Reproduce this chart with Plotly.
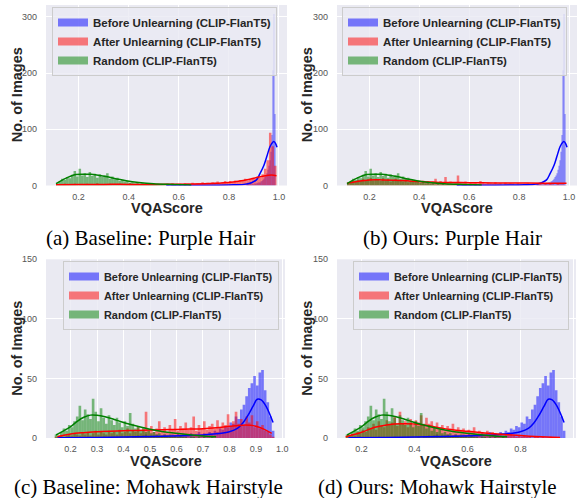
import plotly.graph_objects as go

# ---------------- data ----------------
TICK_X_PH = [0.2, 0.4, 0.6, 0.8, 1.0]
TICK_X_MH_C = [0.2, 0.3, 0.4, 0.5, 0.6, 0.7, 0.8, 0.9, 1.0]
TICK_X_MH_D = [0.2, 0.4, 0.6, 0.8, 1.0]
TICK_Y_PH = [0, 100, 200, 300]
TICK_Y_MH = [0, 50, 100, 150]

LABEL_BEFORE = "Before Unlearning (CLIP-FlanT5)"
LABEL_AFTER = "After Unlearning (CLIP-FlanT5)"
LABEL_RANDOM = "Random (CLIP-FlanT5)"
CAPTIONS = ["(a) Baseline: Purple Hair", "(b) Ours: Purple Hair",
            "(c) Baseline: Mohawk Hairstyle", "(d) Ours: Mohawk Hairstyle"]

# Purple hair histograms
PH_BEFORE_START, PH_BEFORE_W = 0.870, 0.004
PH_BEFORE_COUNTS = [3, 5, 2, 4, 6, 2, 3, 2, 4, 3, 5, 4, 6, 5, 7, 8, 10, 12, 15, 18,
                    22, 28, 35, 45, 60, 90, 205, 305, 127]
PH_START, PH_W = 0.11, 0.01
PH_RANDOM_COUNTS = [4, 7, 12, 10, 15, 13, 19, 26, 16, 30, 18, 22, 15, 24, 17, 21, 14, 20, 15, 18,
                    22, 12, 16, 11, 14, 8, 10, 7, 8, 5, 6, 4, 5, 3, 4, 2, 3, 2, 3, 1,
                    2, 1, 1, 2, 1, 0, 1, 1, 0, 1, 0, 1, 0, 1]
PH_AFTER_BASE_COUNTS = [1, 2, 1, 3, 2, 1, 2, 3, 1, 2, 2, 1, 3, 2, 1, 2, 4, 1, 2, 2,
                        1, 3, 2, 1, 2, 3, 2, 1, 2, 4, 2, 1, 3, 2, 2, 1, 3, 2, 1, 2,
                        3, 2, 2, 1, 3, 2, 4, 2, 3,
                        3, 2, 4, 3, 2, 5, 3, 4, 3, 6, 4, 5, 3, 6, 5, 7, 4, 6, 8, 5,
                        8, 6, 9, 7, 10, 8, 12, 9, 11, 14,
                        12, 16, 14, 20, 30, 45, 94, 70, 35]
PH_AFTER_OURS_COUNTS = [4, 6, 8, 7, 10, 9, 12, 8, 11, 14, 9, 12, 10, 8, 13, 9, 11, 7, 10, 12,
                        8, 9, 7, 11, 6, 9, 8, 10, 7, 6, 9, 5, 8, 6, 7, 12, 5, 8, 6, 15,
                        5, 7, 4, 6, 18, 5, 4, 7, 3, 6, 4, 5, 3, 8, 4, 3, 5, 4, 3, 6,
                        3, 4, 2, 5, 3, 4, 3, 2, 4, 3, 2, 3, 4, 2, 3, 2, 4, 3, 2, 3,
                        2, 3, 2, 1, 3, 2, 2, 1]

# Purple hair KDE curves
PH_BEFORE_KDE_X = [0.55, 0.7, 0.8, 0.86, 0.89, 0.91, 0.924, 0.94, 0.951, 0.964, 0.975, 0.98, 0.986, 0.992]
PH_BEFORE_KDE_Y = [0.5, 0.5, 1, 2, 5, 10, 21, 36, 51, 69, 77, 78, 75, 68]
PH_RANDOM_KDE_X = [0.11, 0.14, 0.17, 0.19, 0.22, 0.25, 0.29, 0.32, 0.36, 0.39, 0.44, 0.5, 0.58, 0.65]
PH_RANDOM_KDE_Y = [3.5, 11, 17, 19.5, 20, 19.8, 17.5, 15, 11, 8.5, 5.5, 3.2, 2, 1]
PH_AFTER_BASE_KDE_X = [0.11, 0.2, 0.3, 0.4, 0.5, 0.6, 0.7, 0.75, 0.8, 0.85, 0.9, 0.94, 0.97, 0.99]
PH_AFTER_BASE_KDE_Y = [1.5, 1.8, 2, 2, 2, 2.2, 3, 4, 5.5, 8.5, 13, 17, 18.5, 17.5]
PH_AFTER_OURS_KDE_X = [0.11, 0.15, 0.2, 0.25, 0.3, 0.35, 0.4, 0.45, 0.5, 0.6, 0.7, 0.8, 0.9, 0.99]
PH_AFTER_OURS_KDE_Y = [4, 7, 9.8, 10, 9.5, 8.5, 7, 6.2, 5.5, 5, 4.6, 4.4, 4, 3.8]

# Mohawk histograms
MH_START, MH_W = 0.14, 0.01
MH_RANDOM_COUNTS = [3, 2, 5, 8, 6, 11, 9, 14, 18, 27, 15, 24, 20, 16, 33, 22, 14, 25, 17, 12,
                    19, 15, 11, 17, 13, 9, 14, 10, 21, 12, 8, 10, 6, 9, 5, 7, 4, 5, 3, 4,
                    2, 3, 2, 3, 1, 2, 1, 2, 1, 1, 0, 1, 1, 0, 1, 0, 1, 0, 0, 1,
                    0, 0, 0, 0, 0, 0, 0, 0, 0, 0, 0, 0, 0, 0, 0, 0, 0, 0, 0, 0,
                    0, 0, 0]
MH_BEFORE_COUNTS = [0, 0, 0, 0, 0, 1, 0, 0, 0, 0, 0, 0, 1, 0, 0, 0, 0, 0, 1, 0,
                    0, 0, 0, 1, 0, 0, 0, 1, 0, 1,
                    1, 2, 1, 2, 3, 1, 2, 2, 3, 1, 2, 3, 2, 1, 3, 2, 4, 2, 3, 2,
                    3, 4, 2, 3, 5, 3, 4, 3, 5, 4,
                    6, 5, 8, 7, 10, 9, 13, 12, 18, 16, 24, 28, 35, 42, 46, 52, 44, 55, 57, 40,
                    30, 18, 6]
MH_AFTER_BASE_COUNTS = [1, 0, 2, 1, 2, 3, 2, 4, 3, 2, 4, 3, 5, 2, 4, 6, 3, 5, 4, 3,
                        6, 4, 5, 3, 7, 4, 5, 8, 4, 6, 5, 9, 4, 7, 22, 6, 10, 5, 8, 14,
                        6, 9, 5, 11, 7, 16, 6, 10, 8, 13, 7, 9, 18, 6, 11, 8, 14, 7, 10, 12,
                        8, 15, 9, 13, 11, 20, 10, 14, 22, 12, 16, 11, 18, 13, 19, 9, 14, 8, 11, 6,
                        5, 3, 1]
MH_AFTER_OURS_COUNTS = [1, 2, 3, 2, 5, 4, 7, 5, 9, 8, 12, 7, 14, 10, 9, 15, 11, 13, 18, 10,
                        22, 12, 14, 9, 16, 11, 15, 13, 19, 10, 17, 12, 14, 9, 13, 8, 11, 7, 10, 8,
                        12, 6, 9, 7, 8, 5, 7, 6, 9, 4, 6, 5, 4, 6, 3, 5, 4, 3, 4, 2,
                        3, 2, 3, 2, 1, 2, 1, 2, 1, 1, 0, 1, 1, 0, 1, 0, 0, 1, 0, 0,
                        0, 0, 0]

# Mohawk KDE curves
MH_BEFORE_KDE_X = [0.15, 0.3, 0.45, 0.55, 0.65, 0.7, 0.75, 0.8, 0.83, 0.85, 0.87, 0.89, 0.905, 0.92, 0.94, 0.965]
MH_BEFORE_KDE_Y = [0.2, 0.5, 1, 1.5, 2.2, 2.6, 3.5, 5.3, 8, 12.3, 19, 27, 32.5, 32, 26, 13]
MH_RANDOM_KDE_X = [0.145, 0.17, 0.2, 0.225, 0.25, 0.275, 0.3, 0.33, 0.36, 0.4, 0.45, 0.5, 0.55, 0.6, 0.65, 0.7, 0.75]
MH_RANDOM_KDE_Y = [2.5, 5.5, 9.5, 14, 17.4, 19.2, 19, 17.8, 16, 13, 10, 7.3, 5.3, 3.9, 2.7, 1.7, 1]
MH_AFTER_BASE_KDE_X = [0.15, 0.2, 0.25, 0.3, 0.35, 0.4, 0.45, 0.5, 0.55, 0.6, 0.65, 0.7, 0.75, 0.8, 0.85, 0.88, 0.9, 0.93, 0.96]
MH_AFTER_BASE_KDE_Y = [1.1, 3.4, 4.5, 5.2, 5.7, 6, 6.4, 6.7, 7, 7.2, 7.5, 7.8, 8.6, 9.8, 10.8, 10.6, 9.8, 7.5, 3.9]
MH_AFTER_OURS_KDE_X = [0.14, 0.2, 0.25, 0.3, 0.35, 0.4, 0.45, 0.5, 0.55, 0.6, 0.7, 0.8, 0.9, 0.95]
MH_AFTER_OURS_KDE_Y = [1.1, 4.8, 9, 11.2, 12, 11.8, 10.4, 8.4, 6.7, 5.6, 3.6, 2, 0.8, 0.4]

# ---------------- style ----------------
W, H = 577, 498
BG = "#eaeaf2"
C_BLUE, C_RED, C_GREEN = "#0000ff", "#ff0000", "#008000"
F_BLUE, F_RED, F_GREEN = "rgba(0,0,255,0.5)", "rgba(255,0,0,0.5)", "rgba(0,128,0,0.5)"
SANS = "Liberation Sans, Arial, sans-serif"
SERIF = "Liberation Serif, Times New Roman, serif"


def xdom(l, r):
    return [l / W, r / W]


def ydom(top, bottom):
    return [1 - bottom / H, 1 - top / H]


panels = [
    dict(xd=(46, 287), yd=(5, 185.5), xr=[0.07, 1.032], yr=[0, 321], xt=TICK_X_PH, yt=TICK_Y_PH,
         before=(PH_BEFORE_START, PH_BEFORE_W, PH_BEFORE_COUNTS, PH_BEFORE_KDE_X, PH_BEFORE_KDE_Y),
         after=(PH_START, PH_W, PH_AFTER_BASE_COUNTS, PH_AFTER_BASE_KDE_X, PH_AFTER_BASE_KDE_Y),
         random=(PH_START, PH_W, PH_RANDOM_COUNTS, PH_RANDOM_KDE_X, PH_RANDOM_KDE_Y),
         leg=(52, 7), lfs=11.5, ytx=17, xtt=(167, 208), cap=(150, 238)),
    dict(xd=(337, 577), yd=(5, 185.5), xr=[0.07, 1.032], yr=[0, 321], xt=TICK_X_PH, yt=TICK_Y_PH,
         before=(PH_BEFORE_START, PH_BEFORE_W, PH_BEFORE_COUNTS, PH_BEFORE_KDE_X, PH_BEFORE_KDE_Y),
         after=(PH_START, PH_W, PH_AFTER_OURS_COUNTS, PH_AFTER_OURS_KDE_X, PH_AFTER_OURS_KDE_Y),
         random=(PH_START, PH_W, PH_RANDOM_COUNTS, PH_RANDOM_KDE_X, PH_RANDOM_KDE_Y),
         leg=(342, 7), lfs=11.5, ytx=307, xtt=(457, 208), cap=(452, 238)),
    dict(xd=(46, 285), yd=(259.3, 438), xr=[0.107, 1.01], yr=[0, 150], xt=TICK_X_MH_C, yt=TICK_Y_MH,
         before=(MH_START, MH_W, MH_BEFORE_COUNTS, MH_BEFORE_KDE_X, MH_BEFORE_KDE_Y),
         after=(MH_START, MH_W, MH_AFTER_BASE_COUNTS, MH_AFTER_BASE_KDE_X, MH_AFTER_BASE_KDE_Y),
         random=(MH_START, MH_W, MH_RANDOM_COUNTS, MH_RANDOM_KDE_X, MH_RANDOM_KDE_Y),
         leg=(63, 261), lfs=10.9, ytx=17, xtt=(166, 461), cap=(148, 487)),
    dict(xd=(337, 576), yd=(259.3, 438), xr=[0.107, 1.01], yr=[0, 150], xt=TICK_X_MH_D, yt=TICK_Y_MH,
         before=(MH_START, MH_W, MH_BEFORE_COUNTS, MH_BEFORE_KDE_X, MH_BEFORE_KDE_Y),
         after=(MH_START, MH_W, MH_AFTER_OURS_COUNTS, MH_AFTER_OURS_KDE_X, MH_AFTER_OURS_KDE_Y),
         random=(MH_START, MH_W, MH_RANDOM_COUNTS, MH_RANDOM_KDE_X, MH_RANDOM_KDE_Y),
         leg=(353, 261), lfs=10.9, ytx=307, xtt=(456, 461), cap=(437, 487)),
]

fig = go.Figure()
layout = dict(width=W, height=H, margin=dict(l=0, r=0, t=0, b=0, autoexpand=False),
              paper_bgcolor="white", plot_bgcolor=BG, barmode="overlay",
              font=dict(family=SANS, color="#262626"), annotations=[])

for i, p in enumerate(panels):
    k = "" if i == 0 else str(i + 1)
    xa, ya = "x" + k, "y" + k
    lg = "legend" + k
    for key, name, fc, lc in [("before", LABEL_BEFORE, F_BLUE, C_BLUE),
                              ("after", LABEL_AFTER, F_RED, C_RED),
                              ("random", LABEL_RANDOM, F_GREEN, C_GREEN)]:
        start, w, counts, kx, ky = p[key]
        centers = [start + w * (j + 0.5) for j in range(len(counts))]
        fig.add_trace(go.Bar(x=centers, y=counts, width=w, marker=dict(color=fc, line=dict(width=0)),
                             xaxis=xa, yaxis=ya, showlegend=False, hoverinfo="skip"))
        fig.add_trace(go.Scatter(x=kx, y=ky, mode="lines", line=dict(color=lc, width=1.5, shape="spline"),
                                 xaxis=xa, yaxis=ya, showlegend=False, hoverinfo="skip"))
        # legend patch entry
        fig.add_trace(go.Scatter(x=[None], y=[None], mode="lines", name=name,
                                 line=dict(color=fc, width=8), xaxis=xa, yaxis=ya,
                                 legend=lg, showlegend=True))
    layout["xaxis" + k] = dict(domain=xdom(*p["xd"]), range=p["xr"], anchor=ya, tickvals=p["xt"],
                               tickformat=".1f", showgrid=True, gridcolor="white", gridwidth=1,
                               zeroline=False, showline=False, ticks="",
                               tickfont=dict(size=9, color="#555555"), ticklabelstandoff=4)
    layout["yaxis" + k] = dict(domain=ydom(*p["yd"]), range=p["yr"], anchor=xa, tickvals=p["yt"],
                               showgrid=True, gridcolor="white", gridwidth=1,
                               zeroline=False, showline=False, ticks="",
                               tickfont=dict(size=9, color="#555555"), ticklabelstandoff=8)
    layout[lg] = dict(x=p["leg"][0] / W, y=1 - p["leg"][1] / H, xanchor="left", yanchor="top",
                      bgcolor="rgba(234,234,242,0.8)", bordercolor="#cccccc", borderwidth=1,
                      font=dict(family=SANS, size=p["lfs"], color="#262626", weight="bold"),
                      itemwidth=30, traceorder="normal")
    ymid = (p["yd"][0] + p["yd"][1]) / 2
    layout["annotations"] += [
        dict(text="No. of Images", x=p["ytx"] / W, y=1 - ymid / H, xref="paper", yref="paper",
             textangle=-90, showarrow=False, xanchor="center", yanchor="middle",
             font=dict(family=SANS, size=14.5, color="#262626", weight="bold")),
        dict(text="VQAScore", x=p["xtt"][0] / W, y=1 - p["xtt"][1] / H, xref="paper", yref="paper",
             showarrow=False, xanchor="center", yanchor="middle",
             font=dict(family=SANS, size=14.5, color="#262626", weight="bold")),
        dict(text=CAPTIONS[i], x=p["cap"][0] / W, y=1 - p["cap"][1] / H, xref="paper", yref="paper",
             showarrow=False, xanchor="center", yanchor="middle",
             font=dict(family=SERIF, size=21, color="black")),
    ]

fig.update_layout(**layout)
fig.write_html("out.html", config={"displayModeBar": False},
               post_script="document.body.style.margin='0';document.body.style.overflow='hidden';")
